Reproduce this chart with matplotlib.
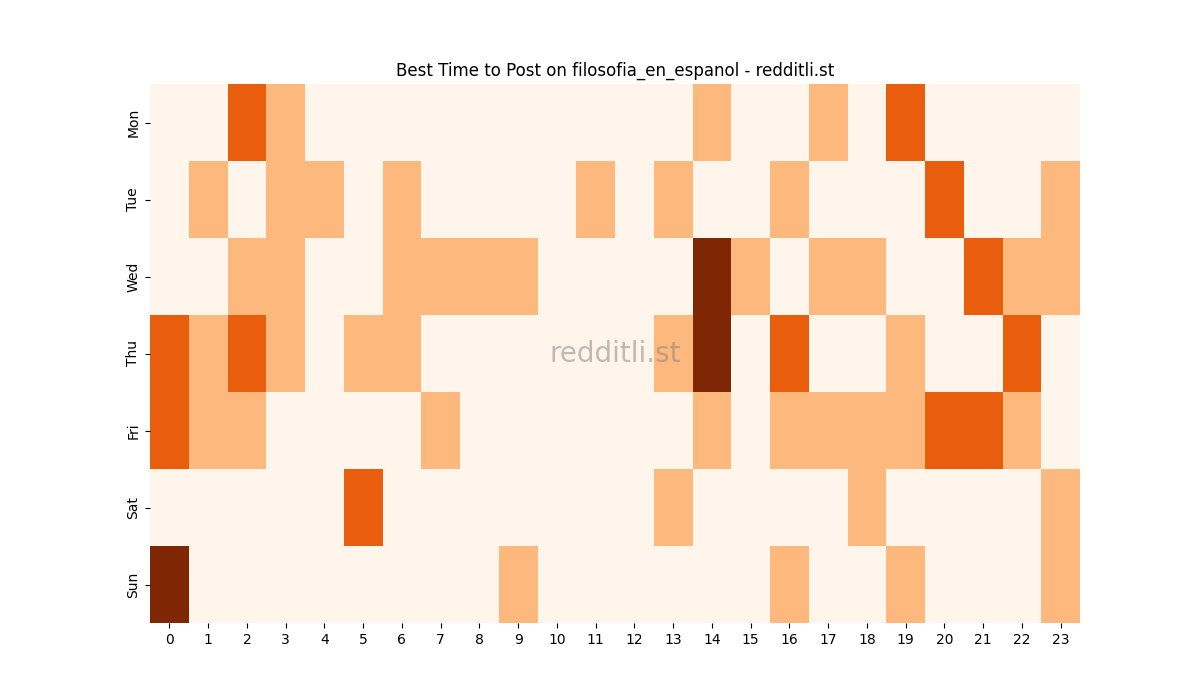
import numpy as np
import matplotlib
matplotlib.use("Agg")
import matplotlib.pyplot as plt
import seaborn as sns

days = ["Mon", "Tue", "Wed", "Thu", "Fri", "Sat", "Sun"]
hours = list(range(24))

# post counts per day (rows) and hour (columns)
mon = [0, 0, 2, 1, 0, 0, 0, 0, 0, 0, 0, 0, 0, 0, 1, 0, 0, 1, 0, 2, 0, 0, 0, 0]
tue = [0, 1, 0, 1, 1, 0, 1, 0, 0, 0, 0, 1, 0, 1, 0, 0, 1, 0, 0, 0, 2, 0, 0, 1]
wed = [0, 0, 1, 1, 0, 0, 1, 1, 1, 1, 0, 0, 0, 0, 3, 1, 0, 1, 1, 0, 0, 2, 1, 1]
thu = [2, 1, 2, 1, 0, 1, 1, 0, 0, 0, 0, 0, 0, 1, 3, 0, 2, 0, 0, 1, 0, 0, 2, 0]
fri = [2, 1, 1, 0, 0, 0, 0, 1, 0, 0, 0, 0, 0, 0, 1, 0, 1, 1, 1, 1, 2, 2, 1, 0]
sat = [0, 0, 0, 0, 0, 2, 0, 0, 0, 0, 0, 0, 0, 1, 0, 0, 0, 0, 1, 0, 0, 0, 0, 1]
sun = [3, 0, 0, 0, 0, 0, 0, 0, 0, 1, 0, 0, 0, 0, 0, 0, 1, 0, 0, 1, 0, 0, 0, 1]

data = np.array([mon, tue, wed, thu, fri, sat, sun])

fig, ax = plt.subplots(figsize=(12, 7), dpi=100)
sns.heatmap(data, cmap="Oranges", cbar=False, ax=ax,
            xticklabels=hours, yticklabels=days)
ax.set_yticklabels(days, rotation=90, va="center")
ax.set_xticklabels(hours, rotation=0)
ax.set_title("Best Time to Post on filosofia_en_espanol - redditli.st")
ax.text(0.5, 0.5, "redditli.st", transform=ax.transAxes, ha="center",
        va="center", fontsize=20, color="gray", alpha=0.5)

plt.savefig("out.png")
